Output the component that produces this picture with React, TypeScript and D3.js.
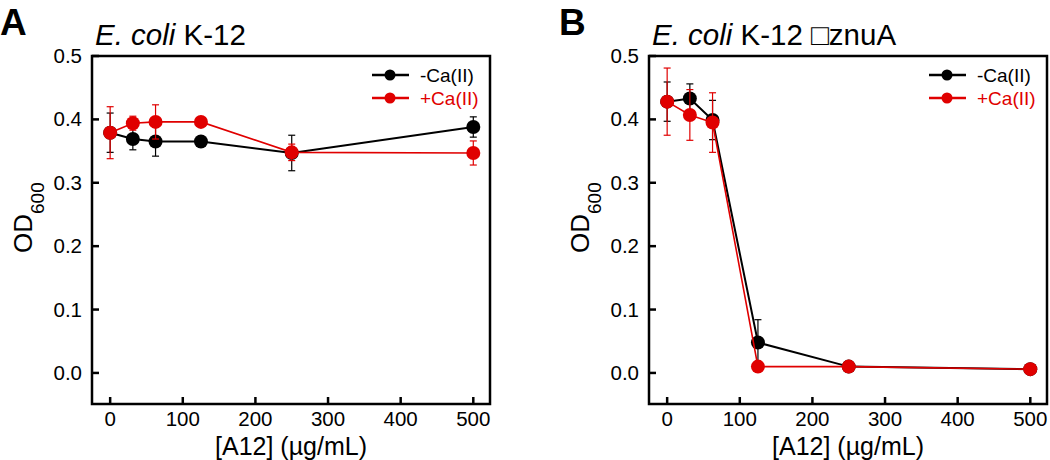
import React from "react";
import * as d3 from "d3";

// ---- data ----
const concentrations = [0, 31.25, 62.5, 125, 250, 500];

const aMinusCa = [0.379, 0.369, 0.365, 0.365, 0.347, 0.388];
const aMinusCaErr = [0.031, 0.017, 0.023, 0.004, 0.028, 0.016];
const aPlusCa = [0.379, 0.394, 0.396, 0.396, 0.348, 0.347];
const aPlusCaErr = [0.041, 0.011, 0.027, 0.004, 0.013, 0.019];

const bMinusCa = [0.428, 0.433, 0.399, 0.048, 0.01, 0.006];
const bMinusCaErr = [0.031, 0.023, 0.031, 0.036, 0.003, 0.003];
const bPlusCa = [0.428, 0.407, 0.395, 0.01, 0.01, 0.006];
const bPlusCaErr = [0.053, 0.04, 0.047, 0.003, 0.003, 0.003];

const xTicks = [0, 100, 200, 300, 400, 500];
const yTicks = [0.0, 0.1, 0.2, 0.3, 0.4, 0.5];
const seriesNames = ["-Ca(II)", "+Ca(II)"];
const seriesColors = ["#000000", "#e00000"];

const FONT = "'Liberation Sans', Arial, Helvetica, sans-serif";

type Series = { name: string; color: string; values: number[]; errs: number[]; width: number };

function Panel(props: {
  letter: string;
  letterX: number;
  x0: number;
  titleRest: string;
  series: Series[];
}) {
  const { letter, letterX, x0, titleRest, series } = props;
  const x1 = x0 + 398;
  const top = 56;
  const bottom = 404;
  const x = d3.scaleLinear().domain([-25, 523]).range([x0, x1]);
  const y = d3.scaleLinear().domain([-0.049, 0.5]).range([bottom, top]);
  const line = d3
    .line<[number, number]>()
    .x((d) => x(d[0]))
    .y((d) => y(d[1]));
  const cx = (x0 + x1) / 2;
  const tickLen = 7;
  const cap = 3.5;

  return (
    <g>
      <text x={letterX} y={35} fontFamily={FONT} fontWeight="bold" fontSize={37} fill="#000">
        {letter}
      </text>
      <text x={x0 + 3} y={45} fontFamily={FONT} fontSize={29.5} fill="#000">
        <tspan fontStyle="italic">E. coli</tspan>
        <tspan>{titleRest}</tspan>
      </text>

      {/* frame */}
      <rect x={x0} y={top} width={x1 - x0} height={bottom - top} fill="none" stroke="#000" strokeWidth={2.5} />

      {/* y ticks */}
      {yTicks.map((t) => (
        <g key={"y" + t}>
          <line x1={x0} x2={x0 + tickLen} y1={y(t)} y2={y(t)} stroke="#000" strokeWidth={2.5} />
          <text
            x={x0 - 10}
            y={y(t) + 7}
            textAnchor="end"
            fontFamily={FONT}
            fontSize={20.5}
            fill="#000"
          >
            {t.toFixed(1)}
          </text>
        </g>
      ))}

      {/* x ticks */}
      {xTicks.map((t) => (
        <g key={"x" + t}>
          <line x1={x(t)} x2={x(t)} y1={bottom} y2={bottom - tickLen} stroke="#000" strokeWidth={2.5} />
          <text x={x(t)} y={426} textAnchor="middle" fontFamily={FONT} fontSize={20.5} fill="#000">
            {t}
          </text>
        </g>
      ))}

      <text x={cx} y={455} textAnchor="middle" fontFamily={FONT} fontSize={25} fill="#000">
        [A12] (µg/mL)
      </text>

      <text
        transform={`translate(${x0 - 60},253) rotate(-90)`}
        fontFamily={FONT}
        fontSize={26}
        fill="#000"
      >
        <tspan>OD</tspan>
        <tspan fontSize={19} dy={12}>
          600
        </tspan>
      </text>

      {/* series */}
      {series.map((s) => {
        const pts = concentrations.map((c, i) => [c, s.values[i]] as [number, number]);
        return (
          <g key={s.name}>
            <path d={line(pts) || ""} fill="none" stroke={s.color} strokeWidth={s.width} />
            {concentrations.map((c, i) => (
              <g key={i} stroke={s.color} strokeWidth={1.2}>
                <line x1={x(c)} x2={x(c)} y1={y(s.values[i] - s.errs[i])} y2={y(s.values[i] + s.errs[i])} />
                <line x1={x(c) - cap} x2={x(c) + cap} y1={y(s.values[i] + s.errs[i])} y2={y(s.values[i] + s.errs[i])} />
                <line x1={x(c) - cap} x2={x(c) + cap} y1={y(s.values[i] - s.errs[i])} y2={y(s.values[i] - s.errs[i])} />
              </g>
            ))}
            {concentrations.map((c, i) => (
              <circle key={"m" + i} cx={x(c)} cy={y(s.values[i])} r={7} fill={s.color} />
            ))}
          </g>
        );
      })}

      {/* legend */}
      {series.map((s, i) => (
        <g key={"leg" + i}>
          <line x1={x0 + 280} x2={x0 + 317} y1={top + 19 + i * 23} y2={top + 19 + i * 23} stroke={s.color} strokeWidth={2.5} />
          <circle cx={x0 + 298} cy={top + 19 + i * 23} r={5.5} fill={s.color} />
          <text x={x0 + 328} y={top + 25.5 + i * 23} fontFamily={FONT} fontSize={19} fill={s.color}>
            {s.name}
          </text>
        </g>
      ))}
    </g>
  );
}

export default function App() {
  const seriesA: Series[] = [
    { name: seriesNames[0], color: seriesColors[0], values: aMinusCa, errs: aMinusCaErr, width: 2 },
    { name: seriesNames[1], color: seriesColors[1], values: aPlusCa, errs: aPlusCaErr, width: 1.6 },
  ];
  const seriesB: Series[] = [
    { name: seriesNames[0], color: seriesColors[0], values: bMinusCa, errs: bMinusCaErr, width: 2 },
    { name: seriesNames[1], color: seriesColors[1], values: bPlusCa, errs: bPlusCaErr, width: 1.6 },
  ];
  return (
    <svg
      width={1050}
      height={460}
      style={{ position: "absolute", left: 0, top: 0, background: "#fff" }}
    >
      <rect x={0} y={0} width={1050} height={460} fill="#fff" />
      <Panel letter="A" letterX={0} x0={92} titleRest=" K-12" series={seriesA} />
      <Panel letter="B" letterX={559} x0={649} titleRest={" K-12 \u25A1znuA"} series={seriesB} />
    </svg>
  );
}
